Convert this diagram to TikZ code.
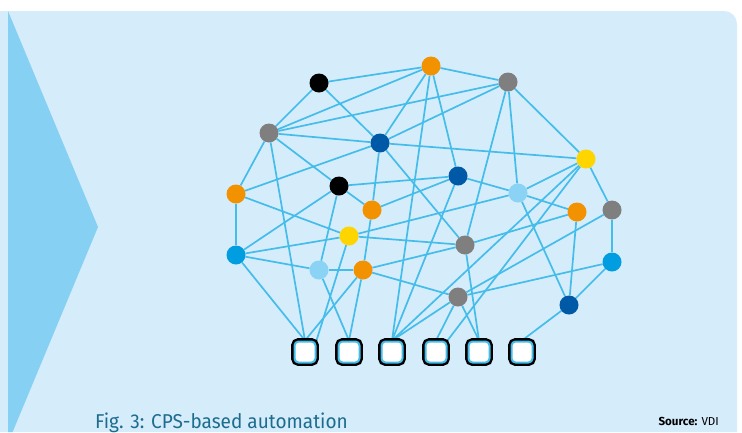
\documentclass[tikz,border=0pt]{standalone}
\usepackage{fontspec}
\setmainfont{Fira Sans}
\newfontfamily\capfont[FakeStretch=0.95]{Fira Sans}
\usetikzlibrary{backgrounds}

\definecolor{panel}{HTML}{D5ECFB}
\definecolor{chevron}{HTML}{85D0F3}
\definecolor{wire}{HTML}{45BDEB}
\definecolor{dotorange}{HTML}{F39200}
\definecolor{dotgray}{HTML}{7F7F7F}
\definecolor{dotdark}{HTML}{0059A6}
\definecolor{dotyellow}{HTML}{FFD500}
\definecolor{dotlight}{HTML}{8AD3F4}
\definecolor{dotcyan}{HTML}{009EE0}
\definecolor{figtext}{HTML}{1D6C8E}

\begin{document}
\begin{tikzpicture}[x=0.5mm, y=-0.5mm,
    dot/.style={circle, fill=#1, minimum size=9.5mm, inner sep=0pt},
    slot/.style={rectangle, rounded corners=2mm, minimum size=10.5mm, inner sep=0pt,
        fill=white, draw=wire, line width=1mm,
        preaction={draw=black, line width=3.4mm}},
    link/.style={draw=wire, line width=0.85mm}]
    \useasboundingbox (0,0) rectangle (742,432);

    \node[dot=black] (a) at (319,83) {};
    \node[dot=dotorange] (b) at (431,66) {};
    \node[dot=dotgray] (c) at (508,82) {};
    \node[dot=dotgray] (d) at (269,133) {};
    \node[dot=dotdark] (e) at (380,143) {};
    \node[dot=dotyellow] (f) at (586,159) {};
    \node[dot=dotorange] (g) at (236,194) {};
    \node[dot=black] (h) at (339,186) {};
    \node[dot=dotdark] (i) at (458,176) {};
    \node[dot=dotlight] (j) at (518,193) {};
    \node[dot=dotorange] (k) at (372,210) {};
    \node[dot=dotorange] (l) at (577,212) {};
    \node[dot=dotgray] (m) at (612,210) {};
    \node[dot=dotyellow] (n) at (349,236) {};
    \node[dot=dotcyan] (o) at (236,255) {};
    \node[dot=dotgray] (p) at (465,245) {};
    \node[dot=dotcyan] (q) at (612,262) {};
    \node[dot=dotlight] (r) at (319,270) {};
    \node[dot=dotorange] (s) at (363,270) {};
    \node[dot=dotgray] (t) at (458,297) {};
    \node[dot=dotdark] (u) at (569,305) {};

    \foreach \x [count=\k] in {305,349,392,436,479,522}
        \node[slot] (box\k) at (\x,352) {};

    \node[anchor=base west, inner sep=0pt, text=figtext, font=\capfont\fontsize{28.5}{32}\selectfont]
        (caption) at (95,428) {Fig. 3: CPS-based automation};
    \node[anchor=base east, inner sep=0pt, font=\fontsize{16.5}{18}\selectfont]
        (source) at (719,425) {\textbf{Source:} VDI};

    \begin{scope}[on background layer]
        \fill[panel] (0,11) -- (724,11) arc[start angle=90, end angle=0, radius=6.5mm]
        -- (737,432) -- (0,432) -- cycle;
        \fill[chevron] (8,11) -- (98,227) -- (12.6,432) -- (8,432) -- cycle;

        \foreach \p/\q in {a/b, a/d, a/e, b/c, b/d, b/e, b/i, c/d, c/e, c/f, c/j, c/p,
            d/e, d/g, d/h, e/f, e/g, e/k, e/p, f/j, f/m, g/n, g/o, h/i, h/k, h/o, h/r,
            i/j, i/k, j/l, j/n, j/u, k/s, l/p, l/u, m/q, m/t, n/o, n/p, o/r, p/s,
            q/t, q/u, r/s, s/t}
            \draw[link] (\p) -- (\q);

        \foreach \p/\q in {d/box1, o/box1, s/box1, r/box2, s/box2, b/box3, i/box3,
            f/box3, t/box3, t/box4, p/box5, t/box5, u/box6}
            \draw[link] (\p) -- (\q.north);
        \draw[link] (n) -- (box1.north east);
        \draw[link] (f) -- (box4.north east);
    \end{scope}
\end{tikzpicture}
\end{document}
